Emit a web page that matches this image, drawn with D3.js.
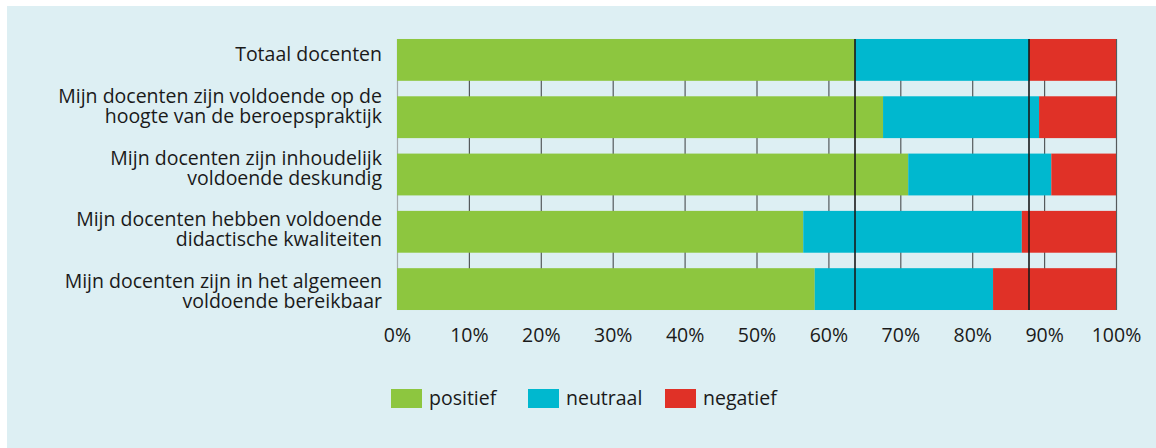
<!DOCTYPE html>
<html>
<head>
<meta charset="utf-8">
<script src="https://cdn.jsdelivr.net/npm/d3@7"></script>
<style>
    body { margin: 0; background: #fff; }
    text { font-family: "Open Sans", sans-serif; fill: #1a1a1a; }
</style>
</head>
<body>
<script>
//chart data
var categories = [
    "Totaal docenten",
    "Mijn docenten zijn voldoende op de hoogte van de beroepspraktijk",
    "Mijn docenten zijn inhoudelijk voldoende deskundig",
    "Mijn docenten hebben voldoende didactische kwaliteiten",
    "Mijn docenten zijn in het algemeen voldoende bereikbaar"
];
//label lines as they wrap in the picture
var labelLines = [
    ["Totaal docenten"],
    ["Mijn docenten zijn voldoende op de", "hoogte van de beroepspraktijk"],
    ["Mijn docenten zijn inhoudelijk", "voldoende deskundig"],
    ["Mijn docenten hebben voldoende", "didactische kwaliteiten"],
    ["Mijn docenten zijn in het algemeen", "voldoende bereikbaar"]
];
var positief = [63.7, 67.6, 71.1, 56.5, 58.1];
var neutraal = [24.2, 21.7, 19.9, 30.4, 24.8];
var negatief = [12.1, 10.7, 9.0, 13.1, 17.1];
var seriesNames = ["positief", "neutraal", "negatief"];
var tickValues = [0, 10, 20, 30, 40, 50, 60, 70, 80, 90, 100];

var w = 1156, h = 448;
var colors = ["#8dc63f", "#00b8cf", "#e03127"];
var fontSize = "19.5px";

var svg = d3.select("body").append("svg")
    .attr("width", w)
    .attr("height", h);

//light blue panel
svg.append("rect")
    .attr("x", 7)
    .attr("y", 6)
    .attr("width", w - 7)
    .attr("height", h - 6)
    .style("fill", "#ddeff3");

var x = d3.scaleLinear()
    .domain([0, 100])
    .range([397, 1116]);

var y = d3.scaleBand()
    .domain(categories)
    .range([31.25, 317.75])
    .paddingInner(0.27)
    .paddingOuter(0.135);

//labels sit on their own spacing (last line baseline)
var yLabel = d3.scalePoint()
    .domain(categories)
    .range([61, 308]);

var plotTop = y(categories[0]);
var plotBottom = y(categories[categories.length - 1]) + y.bandwidth();

//gridlines
var grid = svg.append("g")
    .attr("class", "grid")
    .attr("transform", "translate(0," + plotBottom + ")")
    .call(d3.axisBottom(x).tickValues(tickValues).tickSize(-(plotBottom - plotTop)).tickFormat(""));
grid.select(".domain").remove();
grid.selectAll("line")
    .style("stroke", function(d){ return d == 0 ? "#a3a9ab" : "#555a5c"; })
    .style("stroke-width", 1.2);

//stack the three series
var rows = categories.map(function(c, i){
    return { cat: c, positief: positief[i], neutraal: neutraal[i], negatief: negatief[i] };
});
var stacked = d3.stack().keys(seriesNames)(rows);

svg.selectAll(".series")
    .data(stacked)
    .enter()
    .append("g")
    .attr("class", "series")
    .style("fill", function(d, i){ return colors[i]; })
    .selectAll("rect")
    .data(function(d){ return d; })
    .enter()
    .append("rect")
    .attr("x", function(d){ return x(d[0]); })
    .attr("y", function(d){ return y(d.data.cat); })
    .attr("width", function(d){ return x(d[1]) - x(d[0]); })
    .attr("height", y.bandwidth());

//black reference lines at the "Totaal docenten" boundaries
var refValues = [positief[0], positief[0] + neutraal[0]];
svg.selectAll(".ref")
    .data(refValues)
    .enter()
    .append("line")
    .attr("class", "ref")
    .attr("x1", function(d){ return x(d); })
    .attr("x2", function(d){ return x(d); })
    .attr("y1", plotTop)
    .attr("y2", plotBottom)
    .style("stroke", "#1a1a1a")
    .style("stroke-width", 1.6);

//category labels, right aligned, bottom aligned on last line
var labels = svg.selectAll(".labels")
    .data(categories)
    .enter()
    .append("text")
    .attr("class", "labels")
    .attr("text-anchor", "end")
    .style("font-size", fontSize);

labels.selectAll("tspan")
    .data(function(d, i){
        var lines = labelLines[i];
        return lines.map(function(l, j){
            return { text: l, y: yLabel(d) - (lines.length - 1 - j) * 20 };
        });
    })
    .enter()
    .append("tspan")
    .attr("x", 382)
    .attr("y", function(d){ return d.y; })
    .text(function(d){ return d.text; });

//x axis tick labels
var axis = svg.append("g")
    .attr("class", "axis")
    .attr("transform", "translate(0,342)")
    .call(d3.axisBottom(x).tickValues(tickValues).tickSize(0).tickPadding(0)
        .tickFormat(function(d){ return d + "%"; }));
axis.select(".domain").remove();
axis.selectAll("text")
    .attr("y", 0)
    .attr("dy", null)
    .style("font-family", "Open Sans, sans-serif")
    .style("font-size", fontSize)
    .style("fill", "#1a1a1a");

//legend
var legend = svg.selectAll(".legend")
    .data(seriesNames)
    .enter()
    .append("g")
    .attr("class", "legend")
    .attr("transform", function(d, i){ return "translate(" + (391 + i * 137) + ",389)"; });

legend.append("rect")
    .attr("width", 31)
    .attr("height", 19)
    .style("fill", function(d, i){ return colors[i]; });

legend.append("text")
    .attr("x", 38)
    .attr("y", 16)
    .style("font-size", fontSize)
    .text(function(d){ return d; });
</script>
</body>
</html>
